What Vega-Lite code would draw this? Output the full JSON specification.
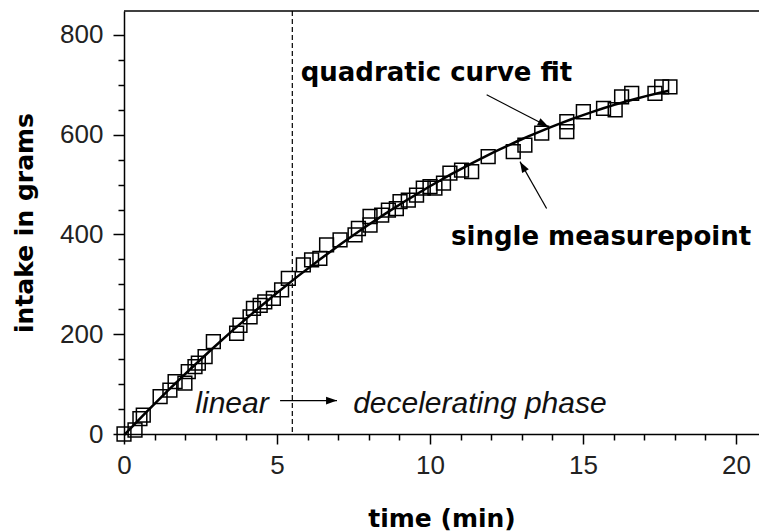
{
  "$schema": "https://vega.github.io/schema/vega-lite/v6.json",
  "width": 635,
  "height": 423,
  "autosize": "none",
  "padding": {"left": 124, "top": 11, "right": 0, "bottom": 98},
  "background": "white",
  "config": {"view": {"stroke": null}, "font": "Liberation Sans"},
  "datasets": {
    "points": [
      {"t": 0, "v": 0}, {"t": 0.36, "v": 8}, {"t": 0.52, "v": 31}, {"t": 0.63, "v": 38},
      {"t": 1.18, "v": 75}, {"t": 1.5, "v": 88}, {"t": 1.67, "v": 105}, {"t": 1.99, "v": 102},
      {"t": 2.1, "v": 125}, {"t": 2.32, "v": 135}, {"t": 2.43, "v": 142}, {"t": 2.65, "v": 155},
      {"t": 2.92, "v": 185}, {"t": 3.68, "v": 202}, {"t": 3.79, "v": 218}, {"t": 4.12, "v": 235},
      {"t": 4.23, "v": 252}, {"t": 4.45, "v": 258}, {"t": 4.6, "v": 265}, {"t": 4.88, "v": 272},
      {"t": 5.15, "v": 289}, {"t": 5.37, "v": 312}, {"t": 5.86, "v": 339}, {"t": 6.13, "v": 349},
      {"t": 6.4, "v": 352}, {"t": 6.62, "v": 379}, {"t": 7.06, "v": 389}, {"t": 7.55, "v": 399},
      {"t": 7.66, "v": 412}, {"t": 8.04, "v": 436}, {"t": 8.04, "v": 419}, {"t": 8.42, "v": 439},
      {"t": 8.64, "v": 449}, {"t": 8.9, "v": 452}, {"t": 9.02, "v": 466}, {"t": 9.29, "v": 469},
      {"t": 9.56, "v": 479}, {"t": 9.78, "v": 493}, {"t": 10.0, "v": 496}, {"t": 10.16, "v": 493},
      {"t": 10.44, "v": 503}, {"t": 10.65, "v": 523}, {"t": 11.03, "v": 529}, {"t": 11.36, "v": 526},
      {"t": 11.9, "v": 556}, {"t": 12.72, "v": 566}, {"t": 13.1, "v": 579}, {"t": 13.65, "v": 603},
      {"t": 14.47, "v": 626}, {"t": 14.47, "v": 606}, {"t": 15.01, "v": 646}, {"t": 15.67, "v": 653},
      {"t": 16.05, "v": 650}, {"t": 16.26, "v": 676}, {"t": 16.59, "v": 683}, {"t": 17.35, "v": 683},
      {"t": 17.57, "v": 696}, {"t": 17.84, "v": 696}
    ],
    "labels": [
      {"kind": "bold", "t": 10.21, "v": 708, "text": "quadratic curve fit"},
      {"kind": "bold", "t": 15.59, "v": 379, "text": "single measurepoint"},
      {"kind": "italic", "t": 3.53, "v": 42, "text": "linear"},
      {"kind": "italic", "t": 11.63, "v": 42, "text": "decelerating phase"}
    ],
    "arrows": [
      {"name": "phase", "t": 5.1, "v": 67, "t2": 6.96, "v2": 67},
      {"name": "fit", "t": 11.85, "v": 680, "t2": 13.87, "v2": 616},
      {"name": "point", "t": 13.81, "v": 452, "t2": 12.94, "v2": 546}
    ]
  },
  "encoding": {
    "x": {"field": "t", "type": "quantitative", "scale": {"domain": [0, 20.75], "nice": false, "zero": false}, "axis": null},
    "y": {"field": "v", "type": "quantitative", "scale": {"domain": [0, 848], "nice": false}, "axis": null}
  },
  "resolve": {"axis": {"x": "independent", "y": "independent"}},
  "layer": [
    {
      "data": {"name": "points"},
      "mark": {"type": "point", "opacity": 0},
      "encoding": {
        "x": {"field": "t", "type": "quantitative", "axis": {
          "orient": "bottom", "title": null, "labels": false, "domain": false, "grid": false, "ticks": true,
          "values": [1,2,3,4,6,7,8,9,11,12,13,14,16,17,18,19],
          "tickSize": 6, "tickColor": "black", "tickWidth": 1.5}},
        "y": {"field": "v", "type": "quantitative", "axis": {
          "orient": "left", "title": null, "labels": false, "domain": false, "grid": false, "ticks": true,
          "values": [50,100,150,250,300,350,450,500,550,650,700,750],
          "tickSize": 6, "tickColor": "black", "tickWidth": 1.5}}
      }
    },
    {"data": {"values": [{"x": 5.5}]}, "mark": {"type": "rule", "color": "black", "strokeDash": [5, 3], "strokeWidth": 1.2}, "encoding": {"x": {"field": "x", "type": "quantitative"}, "y": null}},
    {"data": {"values": [{"y": 848}]}, "mark": {"type": "rule", "color": "black", "strokeWidth": 1.5}, "encoding": {"y": {"field": "y", "type": "quantitative"}, "x": null}},
    {
      "data": {"name": "points"},
      "mark": {"type": "point", "shape": "square", "filled": false, "stroke": "black", "strokeWidth": 1.5, "size": 190, "opacity": 1},
      "encoding": {
        "x": {"field": "t", "type": "quantitative", "axis": {
          "orient": "bottom", "title": "time (min)", "values": [0, 5, 10, 15, 20],
          "grid": false, "labelFlush": false, "labelOverlap": false, "ticks": true,
          "domainColor": "black", "tickColor": "black", "domainWidth": 1.5, "tickWidth": 1.5, "tickSize": 10,
          "labelFont": "Liberation Sans", "labelFontSize": 26, "labelColor": "#222", "labelPadding": 8,
          "titleFont": "DejaVu Sans", "titleFontWeight": "bold", "titleFontSize": 25, "titleColor": "black", "titlePadding": 28}},
        "y": {"field": "v", "type": "quantitative", "axis": {
          "orient": "left", "title": "intake in grams", "values": [0, 200, 400, 600, 800],
          "grid": false, "labelFlush": false, "labelOverlap": false, "ticks": true,
          "domainColor": "black", "tickColor": "black", "domainWidth": 1.5, "tickWidth": 1.5, "tickSize": 11,
          "labelFont": "Liberation Sans", "labelFontSize": 26, "labelColor": "#222", "labelPadding": 10,
          "titleFont": "DejaVu Sans", "titleFontWeight": "bold", "titleFontSize": 25, "titleColor": "black", "titlePadding": 22}}
      }
    },
    {"data": {"name": "points"}, "transform": [{"regression": "v", "on": "t", "method": "poly", "order": 2, "extent": [0, 17.8]}], "mark": {"type": "line", "color": "black", "strokeWidth": 2.5}},
    {"data": {"name": "arrows"}, "mark": {"type": "rule", "color": "black", "strokeWidth": 1.2}, "encoding": {"x2": {"field": "t2"}, "y2": {"field": "v2"}}},
    {"data": {"name": "arrows"}, "transform": [{"filter": "datum.name === 'phase'"}], "mark": {"type": "point", "shape": "M0,0L-2,-0.7L-2,0.7Z", "filled": true, "color": "black", "size": 120, "angle": 0, "opacity": 1}, "encoding": {"x": {"field": "t2", "type": "quantitative"}, "y": {"field": "v2", "type": "quantitative"}}},
    {"data": {"name": "arrows"}, "transform": [{"filter": "datum.name === 'fit'"}], "mark": {"type": "point", "shape": "M0,0L-2,-0.7L-2,0.7Z", "filled": true, "color": "black", "size": 120, "angle": 27, "opacity": 1}, "encoding": {"x": {"field": "t2", "type": "quantitative"}, "y": {"field": "v2", "type": "quantitative"}}},
    {"data": {"name": "arrows"}, "transform": [{"filter": "datum.name === 'point'"}], "mark": {"type": "point", "shape": "M0,0L-2,-0.7L-2,0.7Z", "filled": true, "color": "black", "size": 120, "angle": 240, "opacity": 1}, "encoding": {"x": {"field": "t2", "type": "quantitative"}, "y": {"field": "v2", "type": "quantitative"}}},
    {"data": {"name": "labels"}, "transform": [{"filter": "datum.kind === 'bold'"}], "mark": {"type": "text", "font": "DejaVu Sans", "fontWeight": "bold", "fontSize": 26, "align": "center", "baseline": "alphabetic", "color": "black"}, "encoding": {"text": {"field": "text"}}},
    {"data": {"name": "labels"}, "transform": [{"filter": "datum.kind === 'italic'"}], "mark": {"type": "text", "font": "Liberation Sans", "fontStyle": "italic", "fontSize": 30, "align": "center", "baseline": "alphabetic", "color": "#111"}, "encoding": {"text": {"field": "text"}}}
  ]
}
